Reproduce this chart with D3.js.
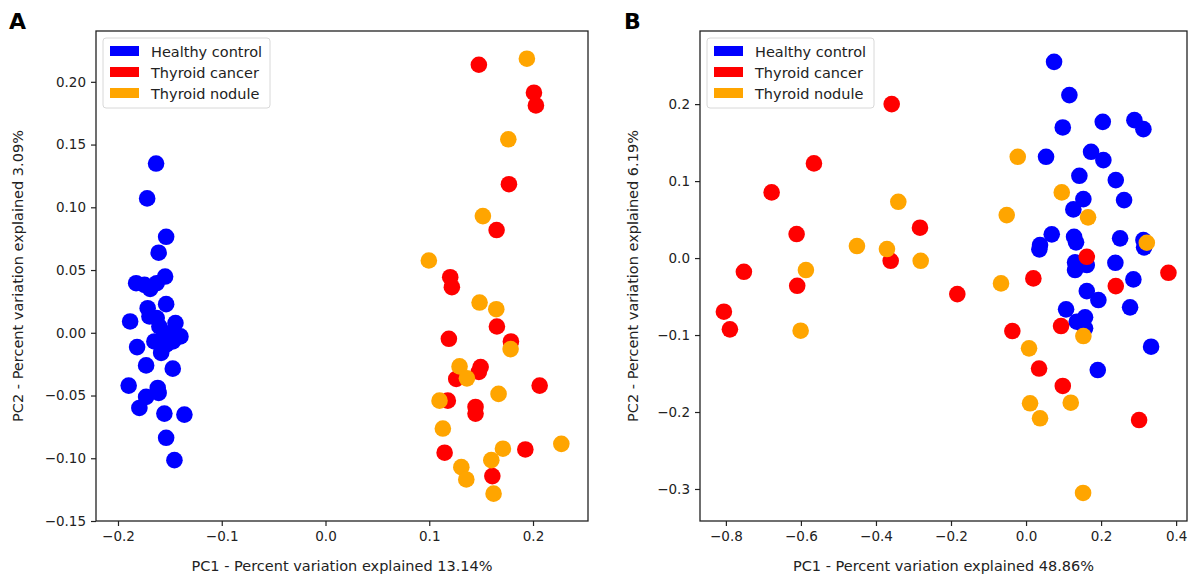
<!DOCTYPE html>
<html>
<head>
<meta charset="utf-8">
<script src="https://cdn.jsdelivr.net/npm/d3@7"></script>
<style>
  body { margin: 0; background: #fff; }
  svg { font-family: 'DejaVu Sans', sans-serif; }
  .tick text { font-family: 'DejaVu Sans', sans-serif; font-size: 13.5px; fill: #222; }
  .tick line { stroke: #222; stroke-width: 1.2; }
  .domain { display: none; }
</style>
</head>
<body>
<svg id="chart"></svg>
<script>
var Groups = ['Healthy control', 'Thyroid cancer', 'Thyroid nodule'];
var Colors = ['#0000ff', '#ff0000', '#ffa500'];

// panel A - PC1 13.14% / PC2 3.09%
var healthyA = [[-0.1633,0.1349],[-0.1719,0.1071],[-0.1536,0.0765],[-0.1608,0.0638],[-0.1825,0.0395],[-0.1745,0.0382],
  [-0.169,0.035],[-0.1627,0.0395],[-0.1546,0.0448],[-0.1536,0.0228],[-0.1714,0.0196],[-0.1697,0.013],[-0.1627,0.0117],
  [-0.1883,0.009],[-0.1601,0.005],[-0.1446,0.0077],[-0.1553,-0.0002],[-0.1488,-0.0029],[-0.1398,-0.0029],[-0.1649,-0.0069],
  [-0.1536,-0.0095],[-0.1472,-0.0069],[-0.1584,-0.0161],[-0.1816,-0.0114],[-0.1729,-0.026],[-0.1472,-0.0286],[-0.1897,-0.0421],
  [-0.1617,-0.044],[-0.1608,-0.0479],[-0.1729,-0.0511],[-0.1794,-0.0599],[-0.1553,-0.0644],[-0.136,-0.0652],[-0.1536,-0.0837],
  [-0.1456,-0.1015]];
var cancerA = [[0.1478,0.2136],[0.2009,0.1913],[0.2028,0.1812],[0.1768,0.1184],[0.1649,0.0819],[0.1202,0.0443],[0.1218,0.0363],
  [0.1652,0.005],[0.1189,-0.0048],[0.1787,-0.0069],[0.1495,-0.0273],[0.1478,-0.0312],[0.126,-0.0368],[0.2064,-0.0421],
  [0.1179,-0.0541],[0.1446,-0.0591],[0.1446,-0.0644],[0.1148,-0.0956],[0.1926,-0.093],[0.1608,-0.1142]];
var noduleA = [[0.1941,0.2184],[0.1762,0.1542],[0.1517,0.093],[0.0996,0.0576],[0.1485,0.0241],[0.1646,0.0188],[0.1784,-0.013],
  [0.1292,-0.0268],[0.1363,-0.0363],[0.1668,-0.0487],[0.1099,-0.0541],[0.1131,-0.0763],[0.171,-0.0924],[0.2273,-0.0885],
  [0.1309,-0.1071],[0.1598,-0.1015],[0.1357,-0.1169],[0.162,-0.1282]];

// panel B - PC1 48.86% / PC2 6.19%
var healthyB = [[0.0747,0.2549],[0.1155,0.2117],[0.0979,0.1697],[0.2045,0.177],[0.2888,0.1792],[0.3128,0.1675],[0.0533,0.1316],
  [0.1733,0.1381],[0.2061,0.1273],[0.1421,0.1069],[0.2392,0.1013],[0.1528,0.0766],[0.2613,0.0753],[0.1261,0.0632],
  [0.0685,0.0308],[0.0373,0.0169],[0.0355,0.0113],[0.128,0.0277],[0.1333,0.0204],[0.2507,0.0256],[0.3128,0.0234],
  [0.3147,0.0139],[0.1307,-0.0056],[0.1307,-0.0156],[0.1619,-0.0091],[0.2381,-0.0061],[0.2861,-0.0277],[0.1619,-0.0429],
  [0.1928,-0.0545],[0.2773,-0.064],[0.1067,-0.0666],[0.1573,-0.077],[0.1352,-0.0827],[0.1573,-0.0913],[0.3333,-0.1152],
  [0.1912,-0.1455]];
var cancerB = [[-0.3581,0.2],[-0.5653,0.123],[-0.6781,0.0853],[-0.2827,0.0394],[-0.6115,0.0312],[-0.3608,-0.0035],
  [-0.752,-0.0178],[-0.6099,-0.036],[0.0195,-0.0264],[-0.1832,-0.0468],[-0.8053,-0.0697],[-0.7893,-0.0926],[-0.0365,-0.0948],
  [0.0347,-0.1435],[0.1619,0.0017],[0.2392,-0.0364],[0.3795,-0.0191],[0.0933,-0.0883],[0.0979,-0.1662],[0.3013,-0.2104]];
var noduleB = [[-0.0221,0.1316],[-0.3405,0.0731],[-0.0515,0.0558],[-0.4507,0.0156],[-0.3707,0.0117],[-0.2808,-0.0035],
  [-0.5867,-0.0156],[-0.0667,-0.0329],[-0.6008,-0.0944],[0.008,-0.1173],[0.0107,-0.1887],[0.0373,-0.2082],[0.0952,0.0853],
  [0.1653,0.0529],[0.3219,0.0199],[0.1528,-0.1013],[0.1192,-0.1879],[0.152,-0.3052]];

var xTicksA = [-0.2, -0.1, 0.0, 0.1, 0.2];
var yTicksA = [-0.15, -0.10, -0.05, 0.00, 0.05, 0.10, 0.15, 0.20];
var xTicksB = [-0.8, -0.6, -0.4, -0.2, 0.0, 0.2, 0.4];
var yTicksB = [-0.3, -0.2, -0.1, 0.0, 0.1, 0.2];

var svgWidth = 1192;
var svgHeight = 574;
var svg = d3.select('#chart').attr('width', svgWidth).attr('height', svgHeight);

var minus = (s) => s.replace('-', '\u2212');

function drawPanel(opt) {
  var g = svg.append('g');

  var xScale = d3.scaleLinear().domain(opt.xDomain).range([opt.left, opt.right]);
  var yScale = d3.scaleLinear().domain(opt.yDomain).range([opt.bottom, opt.top]);

  g.append('g')
    .attr('transform', 'translate(0,' + opt.bottom + ')')
    .call(d3.axisBottom(xScale).tickValues(opt.xTicks).tickSize(5).tickPadding(5)
      .tickFormat((d) => minus(d3.format(opt.xFmt)(d))));

  g.append('g')
    .attr('transform', 'translate(' + opt.left + ',0)')
    .call(d3.axisLeft(yScale).tickValues(opt.yTicks).tickSize(5).tickPadding(5)
      .tickFormat((d) => minus(d3.format(opt.yFmt)(d))));

  var sets = [opt.healthy, opt.cancer, opt.nodule];
  sets.forEach(function(set, i) {
    g.append('g').selectAll('circle')
      .data(set)
      .enter()
      .append('circle')
      .attr('cx', (d) => xScale(d[0]))
      .attr('cy', (d) => yScale(d[1]))
      .attr('r', 8.3)
      .style('fill', Colors[i]);
  });

  g.append('rect')
    .attr('x', opt.left)
    .attr('y', opt.top)
    .attr('width', opt.right - opt.left)
    .attr('height', opt.bottom - opt.top)
    .style('fill', 'none')
    .style('stroke', '#222')
    .style('stroke-width', 1.3);

  var legend = g.append('g').attr('transform', 'translate(' + (opt.left + 7) + ',' + (opt.top + 7) + ')');
  legend.append('rect')
    .attr('width', 167)
    .attr('height', 70)
    .attr('rx', 3)
    .style('fill', '#fff')
    .style('fill-opacity', 0.85)
    .style('stroke', '#d8d8d8');
  Groups.forEach(function(name, i) {
    legend.append('rect')
      .attr('x', 7)
      .attr('y', 8 + i * 21)
      .attr('width', 29)
      .attr('height', 10)
      .style('fill', Colors[i]);
    legend.append('text')
      .attr('x', 48)
      .attr('y', 18.5 + i * 21)
      .style('font-size', '14.5px')
      .style('fill', '#222')
      .text(name);
  });

  svg.append('text')
    .text(opt.xLabel)
    .attr('text-anchor', 'middle')
    .attr('x', (opt.left + opt.right) / 2)
    .attr('y', 571)
    .style('font-size', '14.5px')
    .style('fill', '#222');

  svg.append('text')
    .text(opt.yLabel)
    .attr('text-anchor', 'middle')
    .attr('transform', 'translate(' + opt.yLabelX + ',' + ((opt.top + opt.bottom) / 2) + ') rotate(-90)')
    .style('font-size', '14.5px')
    .style('fill', '#222');

  svg.append('text')
    .text(opt.letter)
    .attr('x', opt.letterX)
    .attr('y', 29)
    .style('font-size', '22px')
    .style('font-weight', 'bold')
    .style('fill', '#000');
}

drawPanel({
  left: 96, right: 588, top: 31, bottom: 521,
  xDomain: [-0.2212, 0.253], yDomain: [-0.15, 0.2405],
  xTicks: xTicksA, yTicks: yTicksA, xFmt: '.1f', yFmt: '.2f',
  healthy: healthyA, cancer: cancerA, nodule: noduleA,
  xLabel: 'PC1 - Percent variation explained 13.14%',
  yLabel: 'PC2 - Percent variation explained 3.09%',
  yLabelX: 23, letter: 'A', letterX: 9
});

drawPanel({
  left: 700, right: 1187, top: 31, bottom: 521,
  xDomain: [-0.869, 0.429], yDomain: [-0.3416, 0.295],
  xTicks: xTicksB, yTicks: yTicksB, xFmt: '.1f', yFmt: '.1f',
  healthy: healthyB, cancer: cancerB, nodule: noduleB,
  xLabel: 'PC1 - Percent variation explained 48.86%',
  yLabel: 'PC2 - Percent variation explained 6.19%',
  yLabelX: 638, letter: 'B', letterX: 624
});
</script>
</body>
</html>
